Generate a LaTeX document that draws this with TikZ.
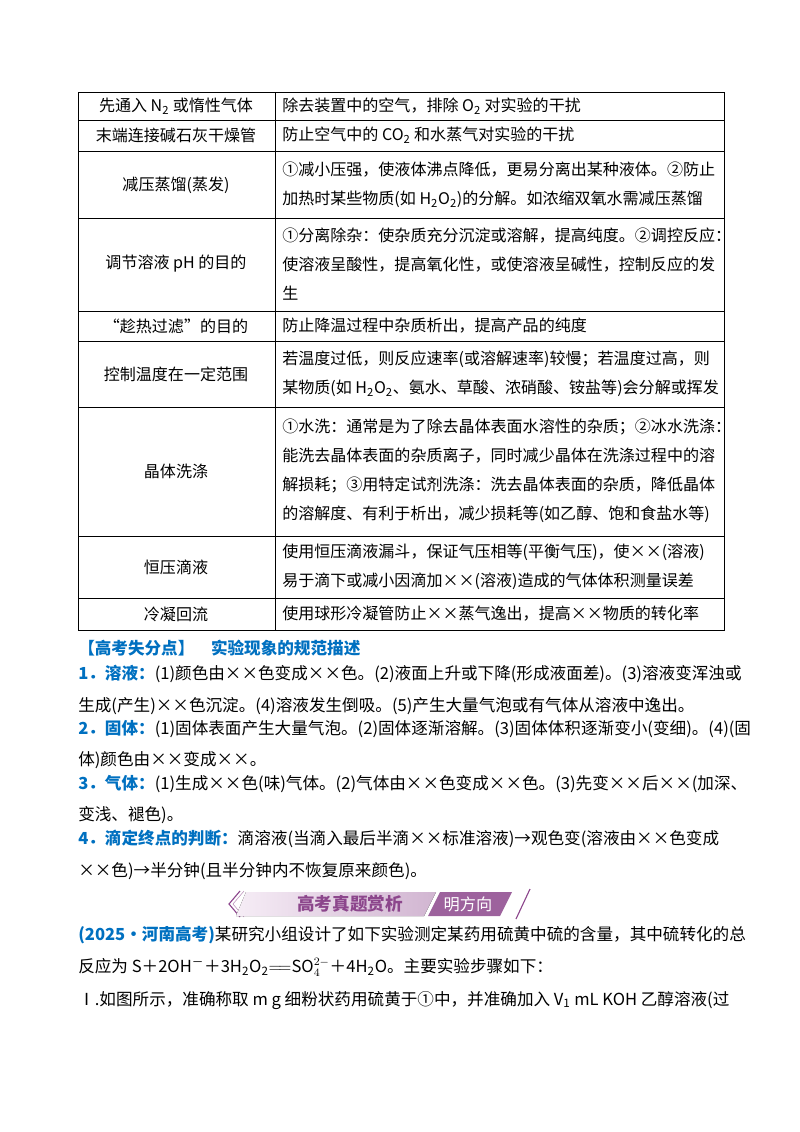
\documentclass[tikz,border=0pt]{standalone}
\usepackage{fontspec}
\setmainfont{Noto Sans CJK SC}
\usetikzlibrary{positioning}
\definecolor{hblue}{RGB}{0,112,192}
\definecolor{hpurple}{RGB}{140,70,140}
\definecolor{hpale}{RGB}{240,225,240}
\newcommand{\xx}{××}
\newcommand{\sub}[1]{\textsubscript{#1}}
\newcommand{\tl}{\\[4.5pt]}
\newcommand{\pl}{\\[5.3pt]}
\begin{document}
\begin{tikzpicture}[
    x=0.025cm, y=-0.025cm,
    font=\fontsize{11.4}{16}\selectfont,
    cell/.style = {anchor=west, align=left, inner sep=0pt},
    head/.style = {anchor=center, inner sep=0pt},
    para/.style = {anchor=north west, align=left, inner sep=0pt,
      font=\fontsize{11.8}{17}\selectfont},
    tag/.style = {text=hblue, font=\fontsize{11.8}{17}\selectfont\bfseries}
  ]
  \useasboundingbox (0,0) rectangle (800,1132);
  % table grid
  \draw[thin] (78,92) rectangle (724,630);
  \draw[thin] (275,92) -- (275,630);
  \foreach \y in {120,151,218,311,341,407,536,598}
    \draw[thin] (78,\y) -- (724,\y);
  % left column
  \node[head] (l1) at (176,106) {先通入 N\sub{2} 或惰性气体};
  \node[head] (l2) at (176,135) {末端连接碱石灰干燥管};
  \node[head] (l3) at (176,185) {减压蒸馏(蒸发)};
  \node[head] (l4) at (176,264) {调节溶液 pH 的目的};
  \node[head] (l5) at (176,326) {“趁热过滤”的目的};
  \node[head] (l6) at (176,374) {控制温度在一定范围};
  \node[head] (l7) at (176,471) {晶体洗涤};
  \node[head] (l8) at (176,567) {恒压滴液};
  \node[head] (l9) at (176,614) {冷凝回流};
  % right column
  \node[cell] (r1) at (282,106) {除去装置中的空气，排除 O\sub{2} 对实验的干扰};
  \node[cell] (r2) at (282,135) {防止空气中的 CO\sub{2} 和水蒸气对实验的干扰};
  \node[cell] (r3) at (282,185) {①减小压强，使液体沸点降低，更易分离出某种液体。②防止\tl
    加热时某些物质(如 H\sub{2}O\sub{2})的分解。如浓缩双氧水需减压蒸馏};
  \node[cell] (r4) at (282,264) {①分离除杂：使杂质充分沉淀或溶解，提高纯度。②调控反应：\tl
    使溶液呈酸性，提高氧化性，或使溶液呈碱性，控制反应的发\tl 生};
  \node[cell] (r5) at (282,326) {防止降温过程中杂质析出，提高产品的纯度};
  \node[cell] (r6) at (282,374) {若温度过低，则反应速率(或溶解速率)较慢；若温度过高，则\tl
    某物质(如 H\sub{2}O\sub{2}、氨水、草酸、浓硝酸、铵盐等)会分解或挥发};
  \node[cell] (r7) at (282,471) {①水洗：通常是为了除去晶体表面水溶性的杂质；②冰水洗涤：\tl
    能洗去晶体表面的杂质离子，同时减少晶体在洗涤过程中的溶\tl
    解损耗；③用特定试剂洗涤：洗去晶体表面的杂质，降低晶体\tl
    的溶解度、有利于析出，减少损耗等(如乙醇、饱和食盐水等)};
  \node[cell] (r8) at (282,567) {使用恒压滴液漏斗，保证气压相等(平衡气压)，使\xx(溶液)\tl
    易于滴下或减小因滴加\xx(溶液)造成的气体体积测量误差};
  \node[cell] (r9) at (282,614) {使用球形冷凝管防止\xx 蒸气逸出，提高\xx 物质的转化率};
  % text below the table
  \node[cell, tag] (hd) at (78,648) {【高考失分点】\quad 实验现象的规范描述};
  \node[para] (p1) at (78,665) {{\color{hblue}\bfseries 1．溶液：}(1)颜色由\xx 色变成\xx 色。(2)液面上升或下降(形成液面差)。(3)溶液变浑浊或\pl
    生成(产生)\xx 色沉淀。(4)溶液发生倒吸。(5)产生大量气泡或有气体从溶液中逸出。};
  \node[para] (p2) at (78,720) {{\color{hblue}\bfseries 2．固体：}(1)固体表面产生大量气泡。(2)固体逐渐溶解。(3)固体体积逐渐变小(变细)。(4)(固\pl
    体)颜色由\xx 变成\xx。};
  \node[para] (p3) at (78,775) {{\color{hblue}\bfseries 3．气体：}(1)生成\xx 色(味)气体。(2)气体由\xx 色变成\xx 色。(3)先变\xx 后\xx(加深、\pl
    变浅、褪色)。};
  \node[para] (p4) at (78,830) {{\color{hblue}\bfseries 4．滴定终点的判断：}滴溶液(当滴入最后半滴\xx 标准溶液)→观色变(溶液由\xx 色变成\pl
    \xx 色)→半分钟(且半分钟内不恢复原来颜色)。};
  % banner
  \draw[hpurple, thick] (240,891) -- (229,904) -- (240,917);
  \draw[hpurple!60, thin] (244,891) -- (233,904) -- (244,917);
  \fill[left color=hpale!60, right color=hpurple!40] (246,892) -- (436,892) -- (424,916) -- (236,916) -- cycle;
  \fill[hpurple!85] (440,892) -- (512,892) -- (500,916) -- (428,916) -- cycle;
  \draw[hpurple, thick] (530,889) -- (516,919);
  \node[head, text=hpurple, font=\fontsize{12.5}{14}\selectfont\bfseries] (bt) at (350,904) {高考真题赏析};
  \node[head, text=white, font=\fontsize{11.5}{14}\selectfont] (bm) at (468,904) {明方向};
  % question
  \node[para] (q1) at (78,926) {{\color{hblue}\bfseries(2025·河南高考)}某研究小组设计了如下实验测定某药用硫黄中硫的含量，其中硫转化的总\\[6pt]
    反应为 S＋2OH\textsuperscript{－}＋3H\sub{2}O\sub{2}$=\joinrel=$SO$_4^{2-}$＋4H\sub{2}O。主要实验步骤如下：\\[6pt]
    Ⅰ.如图所示，准确称取 \textit{m} g 细粉状药用硫黄于①中，并准确加入 \textit{V}\sub{1} mL KOH 乙醇溶液(过};
\end{tikzpicture}
\end{document}
